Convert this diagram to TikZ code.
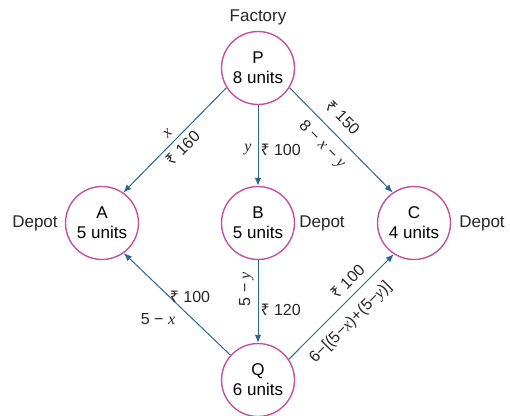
\documentclass[tikz,border=0pt]{standalone}
\usepackage{fontspec}
\setmainfont{Liberation Sans}
\newfontfamily\rupfont{Noto Sans}
\newfontfamily\varfont{Liberation Serif}
\usetikzlibrary{arrows.meta}
\definecolor{circ}{RGB}{196,80,160}
\definecolor{arr}{RGB}{45,100,150}
\newcommand\Rs{{\rupfont ₹}}
\newcommand\vx{{\varfont\itshape x}}
\newcommand\vy{{\varfont\itshape y}}
\begin{document}
\begin{tikzpicture}[x=1pt,y=-1pt,
  place/.style={circle,draw=circ,line width=1.4pt,minimum size=73pt,inner sep=0pt,align=center,font=\fontsize{17}{20}\selectfont},
  flow/.style={draw=arr,line width=1pt,-{Latex[length=8pt,width=6.5pt]}},
  lab/.style={font=\fontsize{16}{18}\selectfont,inner sep=1pt,text=black!85},
  txt/.style={font=\fontsize{17}{20}\selectfont,text=black!85}]
\useasboundingbox (0,0) rectangle (510,415);
\node[place] (P) at (258,68) {P\\8 units};
\node[place] (A) at (102,223) {A\\5 units};
\node[place] (B) at (258,223) {B\\5 units};
\node[place] (C) at (414,223) {C\\4 units};
\node[place] (Q) at (258,380) {Q\\6 units};
\node[txt] (fac) at (258,17) {Factory};
\node[txt] (dA) at (35,223) {Depot};
\node[txt] (dB) at (322,223) {Depot};
\node[txt] (dC) at (482,223) {Depot};
% from P
\draw[flow] (P.212) -- (A.55)
  node[lab,pos=.5,sloped,above=5pt] {\vx}
  node[lab,pos=.5,sloped,below=4pt] {\Rs\ 160};
\draw[flow] (P) -- (B)
  node[lab,pos=.55,left=5pt] {\vy}
  node[lab,pos=.55,right=1pt] {\Rs\ 100};
\draw[flow] (P.328) -- (C.125)
  node[lab,pos=.40,sloped,above=10pt] {\Rs\ 150}
  node[lab,pos=.43,sloped,below=8pt] {8 − \vx\ − \vy};
% from Q
\draw[flow] (Q.138) -- (A.306);
\node[lab] (qa1) at (190,297) {\Rs\ 100};
\node[lab] (qa2) at (158,319) {5 − \vx};
\draw[flow] (B) -- (Q)
  node[lab,pos=.35,left=3pt,rotate=90,anchor=south] {5 − \vy}
  node[lab,pos=.6,right=1pt] {\Rs\ 120};
\draw[flow] (Q.34) -- (C.237)
  node[lab,pos=.65,sloped,above=6pt] {\Rs\ 100}
  node[lab,pos=.47,sloped,below=9pt] {6−[(5−\vx)+(5−\vy)]};
\end{tikzpicture}
\end{document}
